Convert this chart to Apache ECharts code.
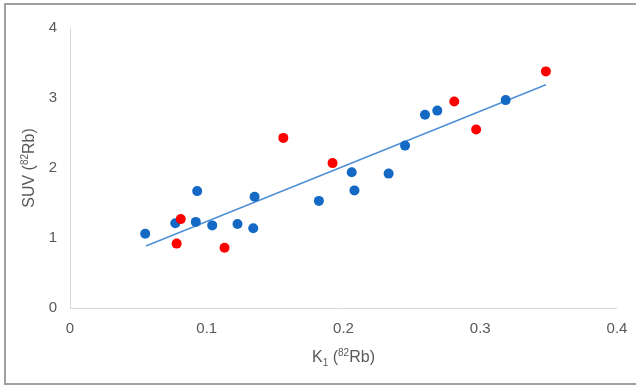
<!DOCTYPE html>
<html>
<head>
<meta charset="utf-8">
<script src="https://cdn.jsdelivr.net/npm/echarts@6/dist/echarts.min.js"></script>
<style>
  html, body { margin: 0; padding: 0; background: #fff; }
  #chart { width: 636px; height: 387px; }
</style>
</head>
<body>
<div id="chart"></div>
<script>
// K1 vs SUV for 82Rb, two groups plus a linear trendline
const blueK1 = [0.055, 0.077, 0.092, 0.093, 0.104, 0.1225, 0.134, 0.135, 0.182, 0.206, 0.208, 0.233, 0.245, 0.2596, 0.2686, 0.3186];
const blueSUV = [1.06, 1.21, 1.23, 1.67, 1.18, 1.20, 1.14, 1.59, 1.53, 1.94, 1.68, 1.92, 2.32, 2.76, 2.82, 2.97];
const redK1 = [0.081, 0.078, 0.113, 0.156, 0.192, 0.281, 0.297, 0.348];
const redSUV = [1.27, 0.92, 0.86, 2.43, 2.07, 2.95, 2.55, 3.38];
const trendK1 = [0.0555, 0.348];
const trendSUV = [0.886, 3.19];

const xTicks = [0, 0.1, 0.2, 0.3, 0.4];
const yTicks = [0, 1, 2, 3, 4];

const zip = (xs, ys) => xs.map((x, i) => [x, ys[i]]);

const grey = "#595959";
const axisLine = { show: true, lineStyle: { color: "#d9d9d9", width: 1 } };

const chart = echarts.init(document.getElementById("chart"), null, { renderer: "canvas" });

const option = {
  animation: false,
  textStyle: { fontFamily: "Liberation Sans, Arial, sans-serif" },
  grid: { left: 70, right: 19, top: 28, bottom: 79 },
  graphic: [
    {
      type: "rect",
      shape: { x: 5, y: 4, width: 700, height: 380 },
      style: { fill: "none", stroke: "#a0a0a0", lineWidth: 2 },
      silent: true,
    },
  ],
  xAxis: {
    type: "value",
    min: xTicks[0],
    max: xTicks[xTicks.length - 1],
    interval: 0.1,
    axisLine: axisLine,
    axisTick: { show: false },
    splitLine: { show: false },
    axisLabel: { color: grey, fontSize: 15, margin: 13, formatter: (v) => String(+v.toFixed(1)) },
    name: "{a|K}{sub|1}{a| (}{sup|82}{a|Rb)}",
    nameLocation: "middle",
    nameGap: 40,
    nameTextStyle: {
      rich: {
        a: { fontSize: 16, color: grey, lineHeight: 20, verticalAlign: "middle" },
        sub: { fontSize: 10, color: grey, lineHeight: 20, verticalAlign: "bottom", padding: [6, 0, 0, 0] },
        sup: { fontSize: 10, color: grey, lineHeight: 20, verticalAlign: "top", padding: [0, 0, 6, 0] },
      },
    },
  },
  yAxis: {
    type: "value",
    min: yTicks[0],
    max: yTicks[yTicks.length - 1],
    interval: 1,
    axisLine: axisLine,
    axisTick: { show: false },
    splitLine: { show: false },
    axisLabel: { color: grey, fontSize: 15, margin: 13 },
    name: "{a|SUV (}{sup|82}{a|Rb)}",
    nameLocation: "middle",
    nameRotate: 90,
    nameGap: 30,
    nameTextStyle: {
      rich: {
        a: { fontSize: 16, color: grey, lineHeight: 20, verticalAlign: "middle" },
        sup: { fontSize: 10, color: grey, lineHeight: 20, verticalAlign: "top", padding: [0, 0, 6, 0] },
      },
    },
  },
  series: [
    {
      type: "line",
      data: zip(trendK1, trendSUV),
      symbol: "none",
      lineStyle: { color: "#4f8fd6", width: 1.5 },
      z: 1,
    },
    {
      type: "scatter",
      data: zip(blueK1, blueSUV),
      symbolSize: 10,
      itemStyle: { color: "#1469c4", opacity: 1 },
      z: 2,
    },
    {
      type: "scatter",
      data: zip(redK1, redSUV),
      symbolSize: 10,
      itemStyle: { color: "#ff0000", opacity: 1 },
      z: 3,
    },
  ],
};

chart.setOption(option);
</script>
</body>
</html>
